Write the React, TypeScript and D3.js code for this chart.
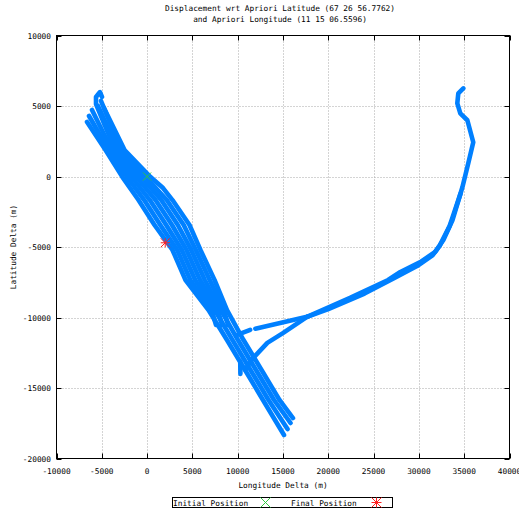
import React from "react";
import * as d3 from "d3";

type Pt = [number, number];

// Survey passes along the main corridor (longitude delta m, latitude delta m)
const pass1: Pt[] = [[-6630, 3870], [-4590, 1880], [-2720, -40], [-950, -1670], [820, -3440], [2800, -5210], [4240, -7340], [6780, -9470], [8820, -11600], [10810, -13720], [12790, -15850], [15110, -18330]];
const pass2: Pt[] = [[-6410, 4290], [-4240, 1880], [-2200, -40], [-320, -1670], [1460, -3440], [3320, -5210], [4770, -7340], [7120, -9470], [7600, -10530]];
const pass3: Pt[] = [[-6080, 4720], [-3900, 1880], [-1690, -40], [300, -1670], [2110, -3440], [3830, -5210], [5310, -7340], [7460, -9470], [9430, -11600], [11410, -13720], [13400, -15850], [15500, -17910]];
const pass4: Pt[] = [[-4980, 5640], [-5200, 5990], [-5640, 5640], [-5640, 5140], [-3540, 1880], [-1170, -40], [930, -1670], [2750, -3440], [4350, -5210], [5840, -7340], [7800, -9470], [8270, -10530]];
const pass5: Pt[] = [[-5420, 5000], [-3190, 1880], [-650, -40], [1560, -1670], [3390, -3440], [4870, -5210], [6370, -7340], [8140, -9470], [10030, -11600], [12020, -13720], [14010, -15850], [15830, -17480]];
const pass6: Pt[] = [[-5090, 5360], [-2850, 1880], [-140, -40], [2170, -1670], [4040, -3440], [5380, -5210], [6910, -7340], [8480, -9470], [8930, -10530]];
const pass7: Pt[] = [[-4760, 4860], [-2490, 1880], [380, -40], [1760, -820], [2800, -1670], [4680, -3440], [5890, -5210], [7440, -7340], [8820, -9470], [10640, -11600], [12630, -13720], [14610, -15850], [16100, -17130]];

// Eastern excursion and return legs
const eastOut: Pt[] = [[34900, 6250], [34350, 5900], [34240, 5190], [34570, 4480], [35350, 3990], [36000, 2430], [35450, 940], [34800, -760], [33700, -3100], [32700, -4500], [31800, -5350], [30150, -6070], [27950, -6770], [26600, -7340], [22400, -8610], [17650, -9950], [11950, -10800]];
const eastWide: Pt[] = [[34600, -1200], [33400, -3500], [32300, -4900], [31500, -5600], [29800, -6350], [27300, -7200], [24000, -8300], [20000, -9400], [17650, -9950]];
const eastStub: Pt[] = [[11380, -10880], [9940, -11230]];
const eastReturn: Pt[] = [[17650, -9950], [15030, -11090], [13270, -11800], [11720, -12860], [10830, -13710]];
const spur: Pt[] = [[10280, -13100], [10300, -14000]];

const tracks: Pt[][] = [pass1, pass2, pass3, pass4, pass5, pass6, pass7, eastOut, eastWide, eastStub, eastReturn, spur];

const initialPos: Pt = [0, 0];
const finalPos: Pt = [2000, -4700];

const xTicks = [-10000, -5000, 0, 5000, 10000, 15000, 20000, 25000, 30000, 35000, 40000];
const yTicks = [-20000, -15000, -10000, -5000, 0, 5000, 10000];

const titleLines = ["Displacement wrt Apriori Latitude (67 26 56.7762)", "and Apriori Longitude (11 15 06.5596)"];

const W = 519;
const H = 513;
const L = 56.5, R = 509.5, T = 35.5, B = 458.5;
const FONT = "'DejaVu Sans Mono', monospace";
const FS = 7.8;

export default function App() {
  const x = d3.scaleLinear().domain([-10000, 40000]).range([L, R]);
  const y = d3.scaleLinear().domain([-20000, 10000]).range([B, T]);
  const line = d3.line<Pt>().x((d) => x(d[0])).y((d) => y(d[1]));

  const cross = (cx: number, cy: number, s: number, color: string) => (
    <g stroke={color} strokeWidth={1}>
      <line x1={cx - s} y1={cy - s} x2={cx + s} y2={cy + s} />
      <line x1={cx - s} y1={cy + s} x2={cx + s} y2={cy - s} />
    </g>
  );
  const star = (cx: number, cy: number, s: number, color: string) => (
    <g stroke={color} strokeWidth={1}>
      <line x1={cx - s} y1={cy} x2={cx + s} y2={cy} />
      <line x1={cx} y1={cy - s} x2={cx} y2={cy + s} />
      <line x1={cx - s} y1={cy - s} x2={cx + s} y2={cy + s} />
      <line x1={cx - s} y1={cy + s} x2={cx + s} y2={cy - s} />
    </g>
  );

  return (
    <svg width={W} height={H} style={{ position: "absolute", left: 0, top: 0, background: "#fff" }} fontFamily={FONT} fontSize={FS}>
      <rect width={W} height={H} fill="#fff" />
      {titleLines.map((t, i) => (
        <text key={i} x={280} y={11 + i * 11} textAnchor="middle" fill="#000">{t}</text>
      ))}
      {/* dotted grid */}
      <g stroke="#a8a8a8" strokeWidth={1} strokeDasharray="1,2">
        {xTicks.slice(1, -1).map((t) => (
          <line key={"gx" + t} x1={Math.round(x(t)) + 0.5} x2={Math.round(x(t)) + 0.5} y1={T} y2={B} />
        ))}
        {yTicks.slice(1, -1).map((t) => (
          <line key={"gy" + t} y1={Math.round(y(t)) + 0.5} y2={Math.round(y(t)) + 0.5} x1={L} x2={R} />
        ))}
      </g>
      {/* position tracks */}
      <g fill="none" stroke="#0080ff" strokeWidth={4.6} strokeLinecap="round" strokeLinejoin="round">
        {tracks.map((tr, i) => (
          <path key={i} d={line(tr) || ""} />
        ))}
      </g>
      {cross(x(initialPos[0]), y(initialPos[1]), 4, "#30c840")}
      {star(x(finalPos[0]), y(finalPos[1]), 4.5, "#ff2020")}
      {/* frame and mirrored ticks */}
      <rect x={L} y={T} width={R - L} height={B - T} fill="none" stroke="#000" strokeWidth={1} />
      <g stroke="#000" strokeWidth={1}>
        {xTicks.map((t) => {
          const px = Math.round(x(t)) + 0.5;
          return (
            <g key={"tx" + t}>
              <line x1={px} x2={px} y1={B} y2={B - 5} />
              <line x1={px} x2={px} y1={T} y2={T + 5} />
            </g>
          );
        })}
        {yTicks.map((t) => {
          const py = Math.round(y(t)) + 0.5;
          return (
            <g key={"ty" + t}>
              <line x1={L} x2={L + 5} y1={py} y2={py} />
              <line x1={R} x2={R - 5} y1={py} y2={py} />
            </g>
          );
        })}
      </g>
      {xTicks.map((t) => (
        <text key={"lx" + t} x={x(t)} y={474} textAnchor="middle" fill="#000">{t}</text>
      ))}
      {yTicks.map((t) => (
        <text key={"ly" + t} x={51} y={y(t) + 3} textAnchor="end" fill="#000">{t}</text>
      ))}
      <text x={283} y={488} textAnchor="middle" fill="#000">Longitude Delta (m)</text>
      <text transform={`translate(16,${247}) rotate(-90)`} textAnchor="middle" fill="#000">Latitude Delta (m)</text>
      {/* legend */}
      <rect x={172.5} y={497.5} width={220} height={10} fill="#fff" stroke="#000" strokeWidth={1} />
      <text x={173} y={505.5} fill="#000">Initial Position</text>
      {cross(265.5, 502.5, 5, "#30c840")}
      <text x={291} y={505.5} fill="#000">Final Position</text>
      {star(376.5, 502.5, 5, "#ff2020")}
    </svg>
  );
}
